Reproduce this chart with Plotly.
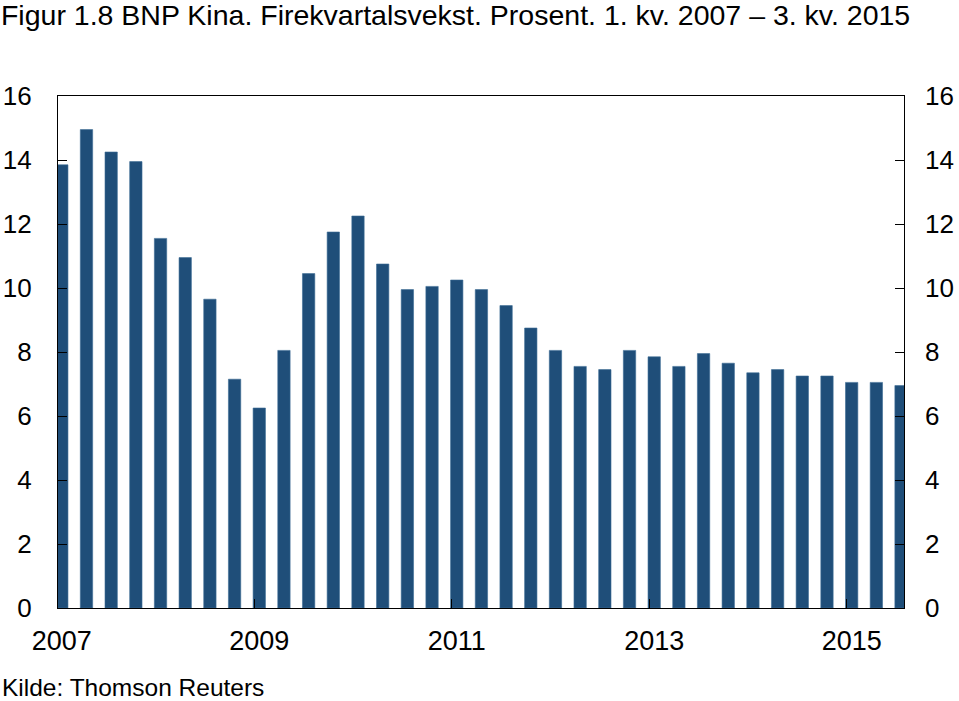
import plotly.graph_objects as go

# Data: China GDP, four-quarter growth, percent, 2007Q1 - 2015Q3
quarters = [f"{y} K{q}" for y in range(2007, 2016) for q in range(1, 5)][:35]
growth = [13.85, 14.95, 14.25, 13.95, 11.55, 10.95, 9.65, 7.15,
          6.25, 8.05, 10.45, 11.75, 12.25, 10.75, 9.95, 10.05,
          10.25, 9.95, 9.45, 8.75, 8.05, 7.55, 7.45, 8.05,
          7.85, 7.55, 7.95, 7.65, 7.35, 7.45, 7.25, 7.25,
          7.05, 7.05, 6.95]
year_labels = ["2007", "2009", "2011", "2013", "2015"]
y_ticks = [0, 2, 4, 6, 8, 10, 12, 14, 16]

idx = list(range(len(growth)))
label_pos = [quarters.index(f"{y} K1") for y in year_labels]
# year boundaries (tick marks) sit slightly left of the Q1 bar
boundary_pos = [p - 0.2 for p in label_pos]

FONT = "Arial, Liberation Sans, sans-serif"
BLUE = "#1f4e79"
xr = [-0.154, 34.12]

fig = go.Figure()
fig.add_trace(go.Bar(x=idx, y=growth, width=0.5, marker=dict(color=BLUE, line=dict(width=0.6, color="#3d6b95")),
                     hovertext=quarters, showlegend=False))
# invisible trace on right axis for mirrored labels
fig.add_trace(go.Scatter(x=[idx[0]], y=[growth[0]], yaxis="y2", xaxis="x",
                         mode="markers", marker=dict(opacity=0), showlegend=False, hoverinfo="skip"))
# invisible trace on secondary x axis for boundary tick marks
fig.add_trace(go.Scatter(x=[idx[0]], y=[growth[0]], xaxis="x2", yaxis="y",
                         mode="markers", marker=dict(opacity=0), showlegend=False, hoverinfo="skip"))

fig.update_layout(
    width=959, height=701, autosize=False,
    margin=dict(l=58, r=55, t=96, b=93, autoexpand=False),
    paper_bgcolor="white", plot_bgcolor="white",
    font=dict(family=FONT, color="black"),
    title=dict(text="Figur 1.8 BNP Kina. Firekvartalsvekst. Prosent. 1. kv. 2007 – 3. kv. 2015",
               x=0.001, xref="container", xanchor="left",
               y=1 - 5 / 701, yref="container", yanchor="top",
               font=dict(family=FONT, size=28.5, color="black")),
    xaxis=dict(range=xr, tickvals=label_pos, ticktext=year_labels, ticks="", automargin=False,
               showgrid=False, zeroline=False, showline=True, linecolor="black", linewidth=1.2,
               mirror=True, tickfont=dict(size=27), ticklabelstandoff=8),
    xaxis2=dict(range=xr, overlaying="x", anchor="y", side="bottom", tickvals=boundary_pos,
                showticklabels=False, ticks="inside", ticklen=9, tickwidth=1.2, tickcolor="black",
                showgrid=False, zeroline=False, showline=False, automargin=False),
    yaxis=dict(range=[0, 16], tickvals=y_ticks, ticks="inside", ticklen=9, tickwidth=1.2,
               tickcolor="black", showgrid=False, zeroline=False, showline=True, automargin=False,
               linecolor="black", linewidth=1.2, mirror=True, tickfont=dict(size=26),
               ticklabelstandoff=20),
    yaxis2=dict(range=[0, 16], tickvals=y_ticks, overlaying="y", side="right", anchor="x",
                ticks="inside", ticklen=9, tickwidth=1.2, tickcolor="black", showgrid=False,
                automargin=False, zeroline=False, showline=False, tickfont=dict(size=26),
                ticklabelstandoff=20),
    annotations=[dict(text="Kilde: Thomson Reuters", xref="paper", yref="paper",
                      x=-0.067, y=-0.1272, xanchor="left", yanchor="top", showarrow=False,
                      borderpad=0, font=dict(family=FONT, size=24.5, color="black"))],
)

fig.write_html("out.html")
